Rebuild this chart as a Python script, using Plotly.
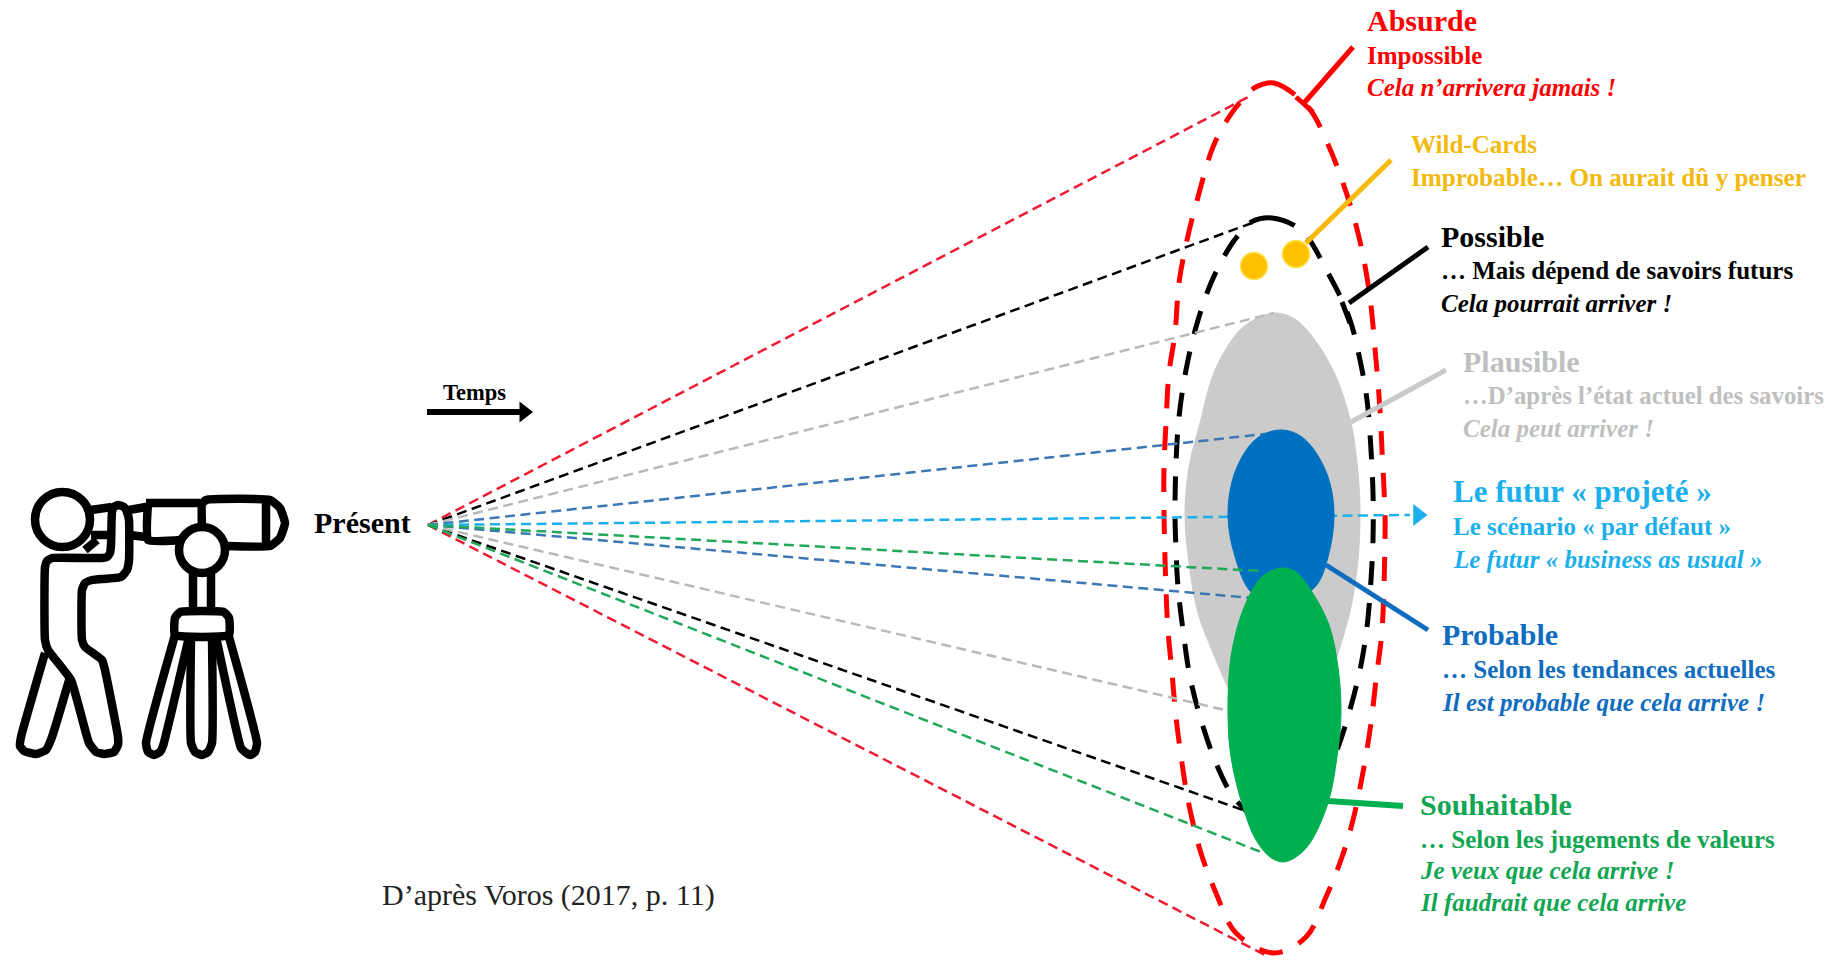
import plotly.graph_objects as go

RED = "#FF0000"; BLACK = "#000000"; GREY = "#C9C9C9"; BLUE = "#0F6CBF"; CYAN = "#1BB0EC"; GREEN = "#00B050"; YELLOW = "#FFC000"

# Outlines (x, y)
red_x = [1256,1274,1308,1326,1342,1358,1369,1376,1380,1382,1385,1385,1382,1376,1371,1364,1353,1342,1326,1306,1274,1236,1216,1200,1188,1182,1176,1172,1168,1166,1164,1164,1166,1169,1175,1179,1187,1198,1213,1229,1244,1256]
red_y = [87,83,107,140,180,233,290,360,410,450,513,540,630,680,723,767,820,857,897,937,953,933,893,850,800,763,717,673,630,590,513,467,423,373,333,283,240,197,147,117,98,87]
blk_x = [1253,1272,1301,1328,1349,1360,1367,1371,1373,1373,1371,1367,1360,1349,1337,1315,1272,1250,1232,1216,1201,1190,1183,1178,1176,1175,1176,1179,1186,1196,1211,1231,1245,1253]
blk_y = [221,218,230,273,317,360,400,450,493,540,580,627,670,713,750,800,840,815,795,763,720,677,630,587,550,513,463,417,370,327,283,245,228,221]
gry_x = [1360,1358,1351,1340,1322,1300,1280,1255,1229,1216,1198,1189,1185,1189,1200,1215,1240,1260,1277,1293,1307,1333,1351,1358,1360]
gry_y = [513,560,607,647,700,750,780,745,690,660,613,563,513,467,423,370,330,317,313,318,330,370,423,473,513]
blu_x = [1334,1328,1315,1283,1252,1234,1228,1234,1250,1264,1281,1297,1312,1328,1334]
blu_y = [513,557,587,603,593,553,513,475,445,434,430,434,447,477,513]
grn_x = [1341,1337,1328,1310,1296,1283,1270,1256,1243,1231,1228,1231,1243,1259,1271,1283,1296,1312,1329,1338,1341]
grn_y = [713,757,803,843,857,862,857,840,807,757,713,657,610,580,571,568,572,592,625,667,713]

wild_x = [1254,1296]
wild_y = [266,254]

origin = (428,525)
rays_before_blue = [
    ("red_top",(1252,95),"#EE1C32"),("red_bottom",(1265,955),"#EE1C32"),
    ("black_top",(1252,223),BLACK),("black_bottom",(1243,810),BLACK),
    ("grey_top",(1274,313),"#B9B9B9"),("grey_bottom",(1225,710),"#B9B9B9"),
    ("blue_top",(1274,433),"#3C78B4"),("blue_bottom",(1252,598),"#3C78B4"),
    ("cyan",(1410,515),CYAN),
]
rays_after_blue = [("green_top",(1261,571),"#22A85A"),("green_bottom",(1261,852),"#22A85A")]

leaders = [
    ([1353,1304],[47,103],RED,5),([1296,1313],[97,112],RED,5),
    ([1391,1306],[160,243],"#F7BA0B",5),
    ([1428,1349],[247,303],BLACK,5),([1342,1350],[302,323],BLACK,5),
    ([1446,1351],[370,422],GREY,5),
    ([1326,1428],[565,630],BLUE,5),
    ([1328,1403],[801,806],GREEN,6),
]

# Observer icon
icon_paths = [
    # person
    ([52,102,107,110,111,112,114,118,124,127,129,129,127,121,92,85,82,82,85,102,105,118,118,114,104,96,89,71,48,45,45,47,52],
     [558,558,557,553,545,512,507,505,507,512,520,560,570,577,580,583,590,640,647,660,670,737,745,752,754,752,743,680,650,640,567,561,558]),
    # left leg
    ([45,21,20,24,36,46,52,70],[653,737,746,751,754,750,737,677]),
    # eyepiece
    ([91,112],[510,507]),([91,111],[535,535]),([85,97],[550,540]),
    ([129,146],[510,507]),([129,146],[535,537]),
    # small tube
    ([146,200],[503,503]),([148,148,182],[503,540,540]),
    # big tube
    ([202,202,206,270,280,285,280,270,226],[527,504,500,500,508,523,538,546,546]),([266,266],[500,546]),
    # neck and collar
    ([193,193],[574,613]),([211,211],[574,613]),
    ([175,175,180,224,229,229,175],[635,618,612,612,618,635,635]),
    # tripod
    ([175,146,148,154,160,163,189],[635,743,752,755,752,746,637]),
    ([191,191,195,202,208,212,212],[637,743,752,755,752,743,637]),
    ([216,241,245,250,255,257,229],[637,748,752,755,752,743,637]),
]
head_x, head_y = [62.5],[519.5]
joint_x, joint_y = [202],[550]

arrow_x = [427,520]
arrow_y = [412,412]

labels = [
 ("Absurde",1366,20,30,"b",RED),("Impossible",1366,55,25,"b",RED),("Cela n’arrivera jamais !",1366,87,25,"bi",RED),
 ("Wild-Cards",1410,144,25,"b","#F2B90F"),("Improbable… On aurait dû y penser",1410,177,25.2,"b","#F2B90F"),
 ("Possible",1440,236,30,"b",BLACK),("… Mais dépend de savoirs futurs",1440,270,25,"b",BLACK),("Cela pourrait arriver !",1440,303,25,"bi",BLACK),
 ("Plausible",1462,361,30,"b","#BFBFBF"),("…D’après l’état actuel des savoirs",1462,395,24.8,"b","#BFBFBF"),("Cela peut arriver !",1462,428,25,"bi","#BFBFBF"),
 ("Le futur « projeté »",1452,491,31,"b",CYAN),("Le scénario « par défaut »",1452,526,25,"b",CYAN),("Le futur « business as usual »",1452,559,25,"bi",CYAN),
 ("Probable",1441,634,30,"b",BLUE),("… Selon les tendances actuelles",1441,669,25,"b",BLUE),("Il est probable que cela arrive !",1441,702,25,"bi",BLUE),
 ("Souhaitable",1419,804,30,"b","#12A652"),("… Selon les jugements de valeurs",1419,839,25,"b","#12A652"),("Je veux que cela arrive !",1419,870,25,"bi","#12A652"),("Il faudrait que cela arrive",1419,902,25,"bi","#12A652"),
 ("D’après Voros (2017, p. 11)",381,895,30,"","#222222"),
 ("Temps",442,392,22.5,"b",BLACK),("Présent",313,522,30,"b",BLACK),
]

fig = go.Figure()

def ray(end, color):
    fig.add_trace(go.Scatter(x=[origin[0],end[0]],y=[origin[1],end[1]],mode="lines",
        line=dict(color=color,width=2.5,dash="10px,5.5px"),hoverinfo="skip"))

def blob(xs, ys, color):
    fig.add_trace(go.Scatter(x=xs,y=ys,mode="lines",fill="toself",fillcolor=color,
        line=dict(color=color,width=1,shape="spline",smoothing=1),hoverinfo="skip"))

def contour(xs, ys, color):
    fig.add_trace(go.Scatter(x=xs,y=ys,mode="lines",
        line=dict(color=color,width=5,shape="spline",smoothing=1,dash="24px,18px"),hoverinfo="skip"))

contour(red_x,red_y,RED)
contour(blk_x,blk_y,BLACK)
blob(gry_x,gry_y,"#CBCBCB")
for _,end,c in rays_before_blue:
    ray(end,c)
blob(blu_x,blu_y,"#0070C0")
for _,end,c in rays_after_blue:
    ray(end,c)
blob(grn_x,grn_y,GREEN)

for xs,ys,c,w in leaders:
    fig.add_trace(go.Scatter(x=xs,y=ys,mode="lines",line=dict(color=c,width=w),hoverinfo="skip"))

fig.add_trace(go.Scatter(x=wild_x,y=wild_y,mode="markers",
    marker=dict(color=YELLOW,size=27,line=dict(color="#FFE34D",width=1.5)),hoverinfo="skip"))

# arrow heads
fig.add_trace(go.Scatter(x=[1418],y=[515],mode="markers",
    marker=dict(symbol="triangle-right",color=CYAN,size=19),hoverinfo="skip"))
fig.add_trace(go.Scatter(x=arrow_x,y=arrow_y,mode="lines",line=dict(color=BLACK,width=6),hoverinfo="skip"))
fig.add_trace(go.Scatter(x=[524],y=[412],mode="markers",
    marker=dict(symbol="triangle-right",color=BLACK,size=18),hoverinfo="skip"))

for xs,ys in icon_paths:
    fig.add_trace(go.Scatter(x=xs,y=ys,mode="lines",
        line=dict(color=BLACK,width=8.5,shape="spline",smoothing=0.4),hoverinfo="skip"))
fig.add_trace(go.Scatter(x=head_x,y=head_y,mode="markers",
    marker=dict(size=55,color="white",line=dict(color=BLACK,width=8.5)),hoverinfo="skip"))
fig.add_trace(go.Scatter(x=joint_x,y=joint_y,mode="markers",
    marker=dict(size=46,color="white",line=dict(color=BLACK,width=8.5)),hoverinfo="skip"))

for text,x,y,size,style,color in labels:
    t = text
    if "i" in style: t = f"<i>{t}</i>"
    if "b" in style: t = f"<b>{t}</b>"
    fig.add_annotation(x=x,y=y,text=t,showarrow=False,xanchor="left",yanchor="middle",xshift=-1,
        font=dict(family="Liberation Serif",size=size,color=color))

fig.update_layout(width=1837,height=960,margin=dict(l=0,r=0,t=0,b=0),showlegend=False,
    paper_bgcolor="white",plot_bgcolor="white",
    xaxis=dict(range=[0,1837],visible=False,fixedrange=True),
    yaxis=dict(range=[960,0],visible=False,fixedrange=True))

fig.write_html("out.html",config={"displayModeBar":False},
    post_script="document.body.style.margin='0';document.body.style.overflow='hidden';")
